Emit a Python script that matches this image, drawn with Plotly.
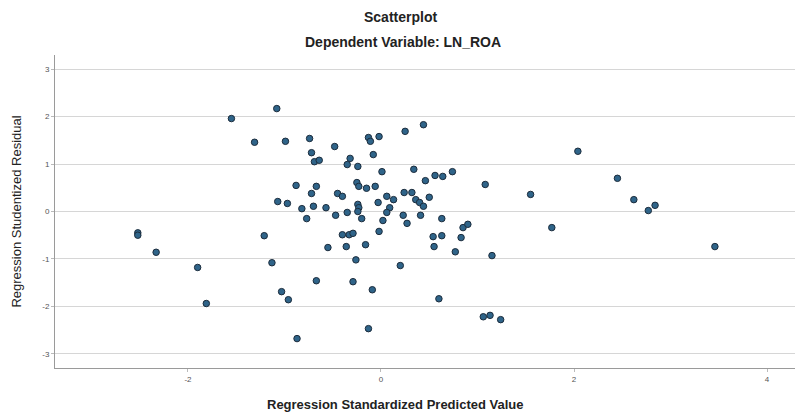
import plotly.graph_objects as go

# Regression standardized predicted value (x) and studentized residual (y)
pred = [-1.08, -1.55, -1.31, -0.99, -0.88, -1.07, -0.97, -0.82, -0.77, -2.52, -2.52, -1.21,
        -2.33, -1.90, -1.13, -1.03, -0.96, -1.81, -0.87,
        -0.74, -0.48, -0.13, -0.11, -0.02, 0.25, 0.44, -0.72, -0.69, -0.64, -0.32, -0.35,
        -0.24, -0.08, 0.01, 0.34, 0.46, 0.56, 0.64, 0.74, 1.08, 1.55,
        -0.67, -0.72, -0.45, -0.40, -0.25, -0.23, -0.15, -0.06, 0.06, 0.13, -0.03, 0.24,
        0.32, 0.36, 0.40, 0.44, 0.50, -0.70, -0.57, -0.24, -0.23, 0.09,
        -0.47, -0.35, -0.24, -0.20, 0.06, 0.02, 0.23, 0.41, 0.27, 0.63, 0.85, 0.90,
        -0.40, -0.33, -0.29, -0.02, 0.54, 0.63, 0.83,
        -0.55, -0.36, -0.16, 0.55, 0.77, 1.15, -0.26, 0.20, -0.67, -0.29, -0.09, 0.60,
        1.06, 1.13, 1.24, -0.13,
        2.04, 2.45, 2.62, 2.84, 2.77, 1.77, 3.46]
resid = [2.17, 1.96, 1.46, 1.48, 0.55, 0.21, 0.17, 0.06, -0.15, -0.45, -0.50, -0.51,
         -0.86, -1.18, -1.08, -1.69, -1.86, -1.94, -2.68,
         1.54, 1.37, 1.56, 1.48, 1.58, 1.69, 1.83, 1.24, 1.05, 1.08, 1.12, 0.99,
         0.95, 1.20, 0.84, 0.89, 0.65, 0.76, 0.74, 0.84, 0.57, 0.36,
         0.53, 0.38, 0.38, 0.32, 0.61, 0.53, 0.49, 0.53, 0.32, 0.25, 0.19, 0.40,
         0.40, 0.25, 0.19, 0.11, 0.30, 0.11, 0.08, 0.15, 0.08, 0.08,
         -0.08, -0.02, 0.00, -0.15, -0.02, -0.19, -0.08, -0.08, -0.25, -0.15, -0.34, -0.27,
         -0.49, -0.49, -0.46, -0.42, -0.53, -0.51, -0.55,
         -0.76, -0.74, -0.70, -0.74, -0.85, -0.93, -1.02, -1.14, -1.46, -1.48, -1.65, -1.84,
         -2.22, -2.19, -2.28, -2.47,
         1.27, 0.70, 0.25, 0.13, 0.02, -0.34, -0.74]

x_ticks = [-2, 0, 2, 4]
y_ticks = [-3, -2, -1, 0, 1, 2, 3]

FONT = "Liberation Sans, Arial, sans-serif"

fig = go.Figure()
fig.add_trace(go.Scatter(
    x=pred, y=resid, mode="markers",
    marker=dict(size=6.5, color="#2f6489", line=dict(color="#1c2c3c", width=1)),
    showlegend=False,
))

fig.update_layout(
    width=795, height=412,
    margin=dict(l=55, r=0, t=55, b=44),
    paper_bgcolor="white", plot_bgcolor="white",
    font=dict(family=FONT, color="#222"),
    annotations=[
        dict(text="<b>Scatterplot</b>", x=(400 - 55) / 740, y=1, xref="paper", yref="paper",
             yanchor="middle", yshift=38, showarrow=False,
             font=dict(size=14, family=FONT, color="#222")),
        dict(text="<b>Dependent Variable: LN_ROA</b>", x=(403 - 55) / 740, y=1,
             xref="paper", yref="paper", yanchor="middle", yshift=13, showarrow=False,
             font=dict(size=14, family=FONT, color="#222")),
        dict(text="<b>Regression Standardized Predicted Value</b>", x=(395 - 55) / 740, y=0,
             xref="paper", yref="paper", yanchor="middle", yshift=-36, showarrow=False,
             font=dict(size=13, family=FONT, color="#222")),
    ],
)

fig.update_xaxes(
    range=[-3.378, 4.29], tickvals=x_ticks, ticktext=[str(v) for v in x_ticks],
    showgrid=False, zeroline=False,
    showline=True, linecolor="#9a9a9a", linewidth=1,
    ticks="outside", ticklen=3, tickcolor="#bbbbbb",
    tickfont=dict(size=8, color="#555", family=FONT),
)
fig.update_yaxes(
    range=[-3.3, 3.3], tickvals=y_ticks, ticktext=[str(v) for v in y_ticks],
    showgrid=True, gridcolor="#d6d6d6", gridwidth=1, zeroline=False,
    showline=True, linecolor="#9a9a9a", linewidth=1,
    ticks="outside", ticklen=3, tickcolor="#bbbbbb",
    tickfont=dict(size=8, color="#555", family=FONT),
    title=dict(text="Regression Studentized Residual",
               font=dict(size=13, family=FONT, color="#222"), standoff=17),
)

fig.write_html("out.html")
